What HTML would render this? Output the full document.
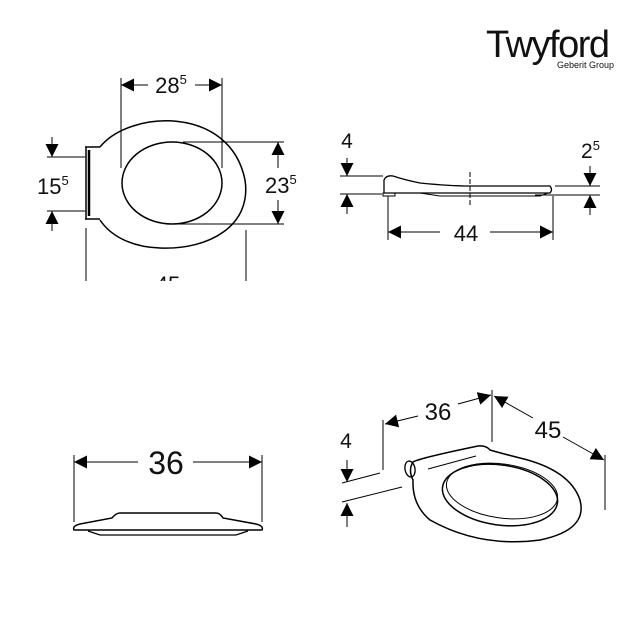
<!DOCTYPE html>
<html><head><style>body{margin:0;background:#fff}svg{display:block}text{font-family:"Liberation Sans",sans-serif;fill:#111}</style></head>
<body>
<svg width="640" height="640" viewBox="0 0 640 640" xmlns="http://www.w3.org/2000/svg">
<defs>
<marker id="a" viewBox="0 0 10 10" refX="10" refY="5" markerWidth="13" markerHeight="13" orient="auto-start-reverse" markerUnits="userSpaceOnUse"><path d="M0,0L10,5L0,10z" fill="#000"/></marker>
</defs>
<g stroke="#000" fill="none" stroke-width="1">
<path d="M100,147 C130,110 230,105 245,180 C252,225 210,250 160,248 C130,247 110,235 100,220" stroke-width="1.5"/>
<path d="M85,147 L100,147 M85,219 L100,219 M86,147 L86,219" stroke-width="1.5"/>
<line x1="89" y1="150" x2="89" y2="216" stroke-width="2.5"/>
<ellipse cx="172" cy="183" rx="50" ry="41" stroke-width="1.5"/>
<line x1="121" y1="78" x2="121" y2="168"/><line x1="222" y1="78" x2="222" y2="168"/>
<line x1="121" y1="85" x2="148" y2="85" marker-start="url(#a)"/><line x1="195" y1="85" x2="222" y2="85" marker-end="url(#a)"/>
<line x1="183" y1="142" x2="284" y2="142"/><line x1="178" y1="224" x2="284" y2="224"/>
<line x1="278" y1="142" x2="278" y2="168" marker-start="url(#a)"/><line x1="278" y1="200" x2="278" y2="224" marker-end="url(#a)"/>
<line x1="47" y1="157" x2="85" y2="157"/><line x1="47" y1="211" x2="85" y2="211"/>
<line x1="52" y1="137" x2="52" y2="157" marker-end="url(#a)"/><line x1="52" y1="231" x2="52" y2="211" marker-end="url(#a)"/>
<line x1="86" y1="228" x2="86" y2="282"/><line x1="246" y1="230" x2="246" y2="282"/>
<path d="M384,193 L384,180 Q386,175 393,176 Q405,180 420,183 Q450,186 470,186 L550,186 Q553,190 550,193 L398,193 Z" stroke-width="1.3"/>
<path d="M383,193 L395,193 L395,196 L383,196 Z M420,193 L440,196 L540,196 L548,193" stroke-width="1"/>
<line x1="470" y1="172" x2="470" y2="207" stroke-dasharray="5,2"/>
<line x1="340" y1="176" x2="383" y2="176"/><line x1="340" y1="194" x2="382" y2="194"/>
<line x1="347" y1="158" x2="347" y2="176" marker-end="url(#a)"/><line x1="347" y1="214" x2="347" y2="194" marker-end="url(#a)"/>
<line x1="388" y1="196" x2="388" y2="240"/><line x1="553" y1="196" x2="553" y2="240"/>
<line x1="388" y1="232" x2="440" y2="232" marker-start="url(#a)"/><line x1="490" y1="232" x2="553" y2="232" marker-end="url(#a)"/>
<line x1="555" y1="186" x2="600" y2="186"/><line x1="535" y1="195" x2="600" y2="195"/>
<line x1="590" y1="166" x2="590" y2="186" marker-end="url(#a)"/><line x1="590" y1="215" x2="590" y2="195" marker-end="url(#a)"/>
<line x1="74" y1="455" x2="74" y2="522"/><line x1="262" y1="455" x2="262" y2="522"/>
<line x1="74" y1="462" x2="138" y2="462" marker-start="url(#a)"/><line x1="193" y1="462" x2="262" y2="462" marker-end="url(#a)"/>
<path d="M74,530 Q72,526 80,524 L112,518 Q116,513 120,513 L216,513 Q220,513 223,518 L256,524 Q264,526 262,530 Z" stroke-width="1.5"/>
<path d="M88,531 L100,535 L236,535 L248,531" stroke-width="1.3"/>
<path d="M413,462 Q420,458 478,446 Q486,445 490,450 Q500,453 520,458 Q570,470 580,500 Q588,530 540,540 Q480,548 430,520 Q412,505 413,480 Q408,470 413,462 Z" stroke-width="1.5"/>
<ellipse cx="410" cy="469" rx="5" ry="8" transform="rotate(-10 410 469)" stroke-width="1.3"/>
<line x1="428" y1="469" x2="476" y2="456"/>
<ellipse cx="500" cy="495" rx="58" ry="30" transform="rotate(8 500 495)" stroke-width="1.5"/>
<ellipse cx="502" cy="491" rx="56" ry="27" transform="rotate(8 502 491)"/>
<line x1="383" y1="420" x2="383" y2="470"/><line x1="492" y1="390" x2="492" y2="442"/>
<line x1="385" y1="424" x2="418" y2="416" marker-start="url(#a)"/><line x1="458" y1="404" x2="491" y2="395" marker-end="url(#a)"/>
<line x1="494" y1="396" x2="533" y2="418" marker-start="url(#a)"/><line x1="563" y1="437" x2="604" y2="460" marker-end="url(#a)"/>
<line x1="605" y1="455" x2="605" y2="510"/>
<line x1="342" y1="483" x2="380" y2="473"/><line x1="342" y1="502" x2="402" y2="487"/>
<line x1="347" y1="460" x2="347" y2="482" marker-end="url(#a)"/><line x1="347" y1="527" x2="347" y2="503" marker-end="url(#a)"/>
</g>
<text x="171" y="93" font-size="22" text-anchor="middle">28<tspan font-size="13" dy="-9">5</tspan></text>
<text x="265" y="193" font-size="22">23<tspan font-size="13" dy="-9">5</tspan></text>
<text x="37" y="194" font-size="22">15<tspan font-size="13" dy="-9">5</tspan></text>
<text x="168" y="292" font-size="22" text-anchor="middle">45</text>
<rect x="60" y="281" width="220" height="20" fill="#fff"/>
<text x="347" y="148" font-size="21" text-anchor="middle">4</text>
<text x="581" y="158" font-size="21">2<tspan font-size="13" dy="-8">5</tspan></text>
<text x="466" y="241" font-size="22" text-anchor="middle">44</text>
<text x="166" y="474" font-size="32" text-anchor="middle">36</text>
<text x="438" y="420" font-size="24" text-anchor="middle">36</text>
<text x="548" y="438" font-size="24" text-anchor="middle">45</text>
<text x="346" y="448" font-size="21" text-anchor="middle">4</text>
<text x="486" y="57" font-size="38" letter-spacing="-1.5">Twyford</text>
<text x="614" y="68" font-size="9" text-anchor="end">Geberit Group</text>
</svg>
</body></html>
